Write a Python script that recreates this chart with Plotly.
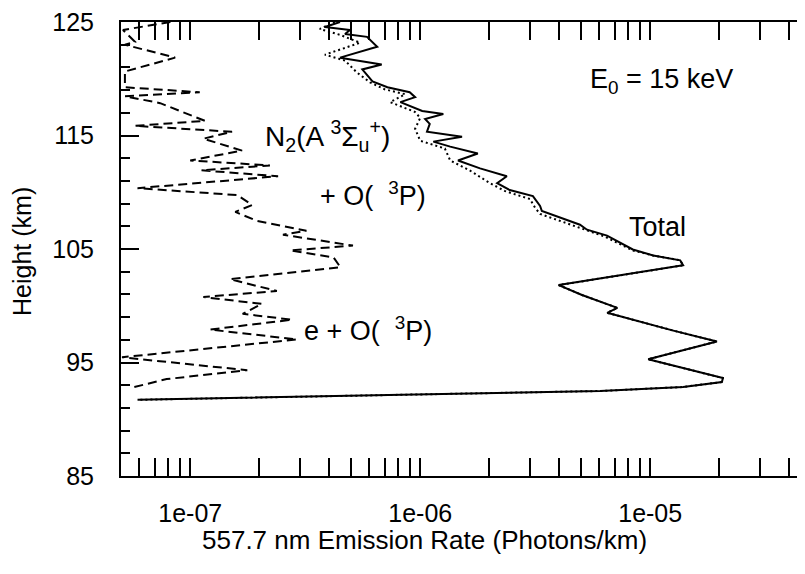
import plotly.graph_objects as go

# ---- data ----
total_height = [125.0, 124.56, 124.30, 123.95, 123.69, 122.82, 121.86, 121.43, 121.25, 120.82,
                119.77, 119.25, 118.81, 118.38, 117.94, 117.16, 116.90, 116.46, 116.02, 115.33,
                114.89, 114.46, 114.02, 113.41, 112.80, 112.10, 111.41, 110.80, 110.19, 109.66,
                108.79, 108.35, 107.14, 106.70, 106.18, 104.96, 104.43, 104.00, 103.56, 101.82,
                101.38, 100.95, 99.81, 99.38, 97.81, 96.85, 95.28, 93.63, 93.28, 92.84,
                92.49, 92.15, 91.71]
total_rate = [4.48e-7, 3.85e-7, 4.95e-7, 4.71e-7, 5.87e-7, 6.5e-7, 4.48e-7, 5.87e-7, 6.8e-7, 5.6e-7,
              6.2e-7, 7.2e-7, 9.0e-7, 9.5e-7, 8.2e-7, 1.02e-6, 1.26e-6, 1.05e-6, 1.10e-6, 1.07e-6,
              1.52e-6, 1.14e-6, 1.35e-6, 1.78e-6, 1.46e-6, 1.82e-6, 2.38e-6, 2.16e-6, 2.45e-6, 3.09e-6,
              3.32e-6, 3.38e-6, 4.95e-6, 5.31e-6, 6.49e-6, 8.4e-6, 1.03e-5, 1.35e-5, 1.39e-5, 4.0e-6,
              4.48e-6, 5.05e-6, 7.2e-6, 6.5e-6, 1.26e-5, 1.95e-5, 9.8e-6, 2.07e-5, 2.05e-5, 1.39e-5,
              6.05e-6, 8.2e-7, 5.9e-8]

n2_height = [125.0, 124.39, 123.87, 123.17, 122.12, 121.60, 120.56, 119.68, 119.07, 118.64,
             117.94, 117.07, 116.55, 115.59, 114.54, 113.85, 112.80, 111.93, 110.80, 110.10,
             109.40, 108.62, 108.09, 106.96, 106.09, 104.87, 104.43, 104.00, 103.56, 101.82,
             101.38, 100.95, 99.81, 99.38, 97.81, 96.85, 95.28, 93.63, 93.28, 92.84,
             92.49, 92.15, 91.71]
n2_rate = [4.25e-7, 3.66e-7, 4.48e-7, 5.47e-7, 3.85e-7, 4.71e-7, 5.3e-7, 6.05e-7, 7.0e-7, 8.6e-7,
           7.4e-7, 9.5e-7, 1.0e-6, 9.5e-7, 1.0e-6, 1.28e-6, 1.35e-6, 1.64e-6, 2.01e-6, 2.34e-6,
           3.0e-6, 3.16e-6, 3.32e-6, 4.85e-6, 6.35e-6, 8.4e-6, 1.03e-5, 1.35e-5, 1.39e-5, 4.0e-6,
           4.48e-6, 5.05e-6, 7.2e-6, 6.5e-6, 1.26e-5, 1.95e-5, 9.8e-6, 2.07e-5, 2.05e-5, 1.39e-5,
           6.05e-6, 8.2e-7, 5.9e-8]

e_height = [125.0, 124.3, 123.26, 123.0, 121.86, 120.64, 119.25, 118.81, 118.46, 117.85,
            116.29, 115.85, 115.33, 114.72, 113.67, 112.80, 112.36, 111.93, 111.41, 110.36,
            109.75, 108.88, 108.27, 107.48, 106.61, 106.26, 105.30, 104.87, 104.26, 103.39,
            102.34, 101.30, 100.77, 100.16, 99.29, 98.77, 97.90, 97.03, 95.46, 94.32,
            93.54, 92.76]
e_rate = [8.2e-8, 5.1e-8, 5.75e-8, 5.2e-8, 8.6e-8, 5.2e-8, 5.2e-8, 1.1e-7, 5.2e-8, 7.4e-8,
          1.16e-7, 5.75e-8, 1.52e-7, 1.14e-7, 1.68e-7, 1.0e-7, 2.22e-7, 1.12e-7, 2.41e-7, 5.9e-8,
          1.6e-7, 1.86e-7, 1.57e-7, 1.95e-7, 3.2e-7, 2.53e-7, 5.1e-7, 2.72e-7, 4.2e-7, 4.5e-7,
          1.49e-7, 2.38e-7, 1.14e-7, 2.05e-7, 1.69e-7, 2.77e-7, 1.22e-7, 2.91e-7, 5.05e-8, 1.77e-7,
          7.9e-8, 5.5e-8]

x_major = [1e-7, 1e-6, 1e-5]
x_major_text = ["1e-07", "1e-06", "1e-05"]
x_minor = [6e-8, 7e-8, 8e-8, 9e-8,
           2e-7, 3e-7, 4e-7, 5e-7, 6e-7, 7e-7, 8e-7, 9e-7,
           2e-6, 3e-6, 4e-6, 5e-6, 6e-6, 7e-6, 8e-6, 9e-6,
           2e-5, 3e-5, 4e-5]
y_major = [85, 95, 105, 115, 125]
y_minor = [87, 89, 91, 93, 97, 99, 101, 103, 107, 109, 111, 113, 117, 119, 121, 123]

FONT = "Liberation Sans, Arial, Helvetica, sans-serif"

fig = go.Figure()
fig.add_trace(go.Scatter(x=n2_rate, y=n2_height, mode="lines",
                         line=dict(color="black", width=2, dash="2px,3px"), hoverinfo="skip"))
fig.add_trace(go.Scatter(x=e_rate, y=e_height, mode="lines",
                         line=dict(color="black", width=2, dash="9px,5px"), hoverinfo="skip"))
fig.add_trace(go.Scatter(x=total_rate, y=total_height, mode="lines",
                         line=dict(color="black", width=2), hoverinfo="skip"))
fig.add_trace(go.Scatter(x=[1e-6], y=[100], mode="markers", marker=dict(opacity=0),
                         yaxis="y2", hoverinfo="skip"))

# page body has an 8px margin; the figure is sized/offset to compensate
fig.update_layout(
    width=797, height=558,
    margin=dict(l=113, r=0, t=8, b=90),
    paper_bgcolor="white", plot_bgcolor="white",
    showlegend=False,
    font=dict(family=FONT, size=25, color="black"),
    xaxis=dict(type="log", range=[-7.301, -4.327], showgrid=False, zeroline=False,
               showline=True, linecolor="black", linewidth=2, mirror="allticks",
               ticks="inside", ticklen=18, tickwidth=1.5, tickcolor="black",
               tickmode="array", tickvals=x_major, ticktext=x_major_text,
               tickfont=dict(family=FONT, size=25, color="black"),
               ticklabelstandoff=14, ticklabeloverflow="allow",
               minor=dict(tickmode="array", tickvals=x_minor, ticks="inside", ticklen=8,
                          tickwidth=1.5, tickcolor="black", showgrid=False)),
    yaxis=dict(range=[85, 125], showgrid=False, zeroline=False,
               showline=True, linecolor="black", linewidth=2, mirror=False,
               ticks="inside", ticklen=18, tickwidth=1.5, tickcolor="black",
               tickmode="array", tickvals=y_major,
               tickfont=dict(family=FONT, size=25, color="black"),
               ticklabelstandoff=20, ticklabeloverflow="allow",
               minor=dict(tickmode="array", tickvals=y_minor, ticks="inside", ticklen=9,
                          tickwidth=1.5, tickcolor="black", showgrid=False)),
    yaxis2=dict(range=[85, 125], overlaying="y", side="right", anchor="x",
                showgrid=False, zeroline=False, showline=False,
                ticks="inside", ticklen=8, tickwidth=1.5, tickcolor="black",
                tickmode="array", tickvals=y_major, showticklabels=False),
)

# positions given in page pixels; plot area spans x 121..805, y 16..476
def px(xp, yp):
    return (xp - 121) / 684.0, (476 - yp) / 460.0

anns = [
    ("E<sub>0</sub> = 15 keV", 588, 76, "left", 0, 27),
    ("Total", 627, 224, "left", 0, 27),
    ("N<sub>2</sub>(A <sup>3</sup>Σ<sub>u</sub><sup>+</sup>)", 263, 131, "left", 0, 28),
    ("+ O(  <sup>3</sup>P)", 318, 190, "left", 0, 27),
    ("e + O(  <sup>3</sup>P)", 302, 327, "left", 0, 27),
    ("557.7 nm Emission Rate (Photons/km)", 424, 541, "center", 0, 26),
    ("Height (km)", 22, 249, "center", -90, 25),
]
for text, xp, yp, xa, ang, sz in anns:
    xx, yy = px(xp, yp)
    fig.add_annotation(text=text, x=xx, y=yy, xref="paper", yref="paper",
                       xanchor=xa, yanchor="middle", showarrow=False, textangle=ang,
                       font=dict(family=FONT, size=sz, color="black"))

fig.write_html("out.html")
